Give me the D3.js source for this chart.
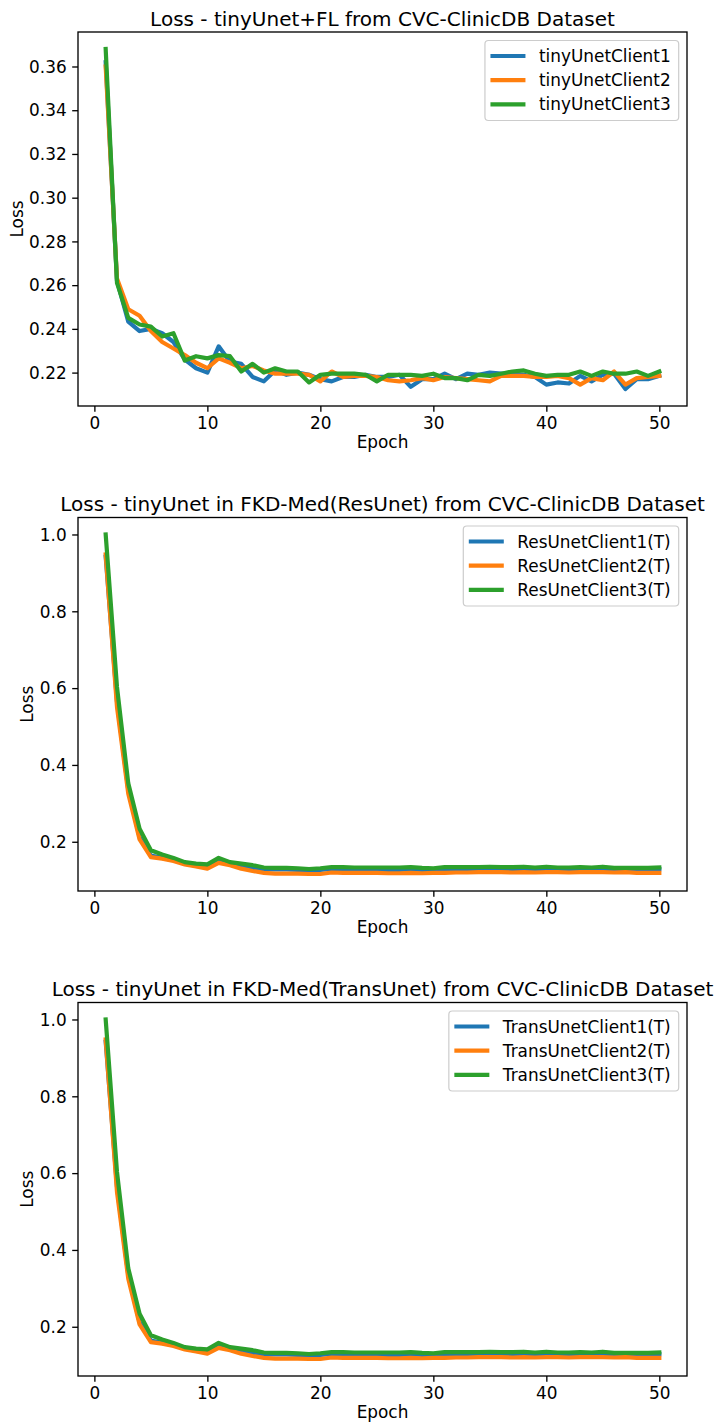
<!DOCTYPE html>
<html><head><meta charset="utf-8">
<script src="https://cdn.jsdelivr.net/npm/d3@7/dist/d3.min.js"></script>
<style>
body{margin:0;background:#fff}
svg{display:block}
text{font-family:"DejaVu Sans",sans-serif;fill:#000}
</style>
</head><body>
<svg id="chart" width="724" height="1425"></svg>
<script>
// ---------------- DATA ----------------
const epochs = d3.range(1, 51);
const xTicks = [0, 10, 20, 30, 40, 50];

const titles = [
  "Loss - tinyUnet+FL from CVC-ClinicDB Dataset",
  "Loss - tinyUnet in FKD-Med(ResUnet) from CVC-ClinicDB Dataset",
  "Loss - tinyUnet in FKD-Med(TransUnet) from CVC-ClinicDB Dataset"
];
const legendFL = ["tinyUnetClient1", "tinyUnetClient2", "tinyUnetClient3"];
const legendRes = ["ResUnetClient1(T)", "ResUnetClient2(T)", "ResUnetClient3(T)"];
const legendTrans = ["TransUnetClient1(T)", "TransUnetClient2(T)", "TransUnetClient3(T)"];
const yTicksFL = [0.22, 0.24, 0.26, 0.28, 0.30, 0.32, 0.34, 0.36];
const yTicksKD = [0.2, 0.4, 0.6, 0.8, 1.0];

const flClient1 = [0.362,0.262,0.2433,0.239,0.240,0.238,0.234,0.226,0.222,0.220,
  0.232,0.225,0.224,0.218,0.216,0.221,0.219,0.220,0.219,0.217,
  0.216,0.218,0.218,0.219,0.218,0.218,0.219,0.2135,0.217,0.217,
  0.2195,0.217,0.2195,0.219,0.220,0.2195,0.2195,0.219,0.218,0.2145,
  0.2155,0.215,0.2185,0.216,0.219,0.2195,0.2125,0.217,0.217,0.2185];
const flClient2 = [0.360,0.263,0.249,0.246,0.239,0.234,0.231,0.228,0.2245,0.222,
  0.2265,0.2245,0.222,0.223,0.221,0.2195,0.2195,0.2195,0.219,0.216,
  0.2205,0.218,0.2185,0.2185,0.218,0.2165,0.216,0.2165,0.2175,0.2165,
  0.218,0.2175,0.217,0.2165,0.216,0.2185,0.2185,0.2185,0.218,0.218,
  0.2185,0.2175,0.2145,0.2175,0.2165,0.2205,0.2145,0.2175,0.218,0.2185];
const flClient3 = [0.368,0.261,0.245,0.242,0.241,0.2365,0.238,0.2255,0.2275,0.2265,
  0.228,0.2275,0.2205,0.224,0.220,0.222,0.2205,0.2205,0.2155,0.219,
  0.2195,0.2195,0.2195,0.219,0.216,0.219,0.219,0.219,0.2185,0.2195,
  0.2175,0.2175,0.2165,0.219,0.2185,0.2195,0.2205,0.221,0.2195,0.2185,
  0.219,0.219,0.2205,0.2185,0.2205,0.2195,0.2195,0.2205,0.2185,0.2205];

const resClient1 = [0.942,0.565,0.335,0.212,0.164,0.158,0.152,0.143,0.138,0.134,
  0.150,0.142,0.136,0.132,0.128,0.128,0.128,0.127,0.126,0.127,
  0.129,0.129,0.128,0.128,0.127,0.127,0.127,0.128,0.127,0.127,
  0.128,0.128,0.128,0.129,0.129,0.129,0.129,0.130,0.129,0.129,
  0.129,0.129,0.129,0.129,0.130,0.129,0.129,0.129,0.129,0.129];
const resClient2 = [0.948,0.551,0.325,0.206,0.160,0.156,0.150,0.141,0.136,0.130,
  0.145,0.139,0.130,0.124,0.119,0.117,0.117,0.117,0.116,0.116,
  0.120,0.119,0.119,0.119,0.119,0.118,0.118,0.119,0.118,0.119,
  0.119,0.120,0.120,0.121,0.121,0.121,0.120,0.121,0.120,0.121,
  0.121,0.120,0.121,0.121,0.121,0.120,0.121,0.119,0.119,0.119];
const resClient3 = [1.000,0.603,0.352,0.234,0.178,0.167,0.158,0.147,0.143,0.141,
  0.158,0.147,0.143,0.139,0.133,0.132,0.132,0.131,0.129,0.131,
  0.134,0.134,0.133,0.133,0.133,0.133,0.133,0.134,0.132,0.131,
  0.134,0.134,0.134,0.134,0.135,0.134,0.134,0.135,0.133,0.135,
  0.133,0.133,0.134,0.133,0.135,0.132,0.132,0.132,0.132,0.133];

const transClient1 = [0.942,0.565,0.335,0.212,0.164,0.158,0.152,0.143,0.138,0.134,
  0.150,0.142,0.136,0.132,0.128,0.128,0.128,0.127,0.126,0.127,
  0.129,0.129,0.128,0.128,0.127,0.127,0.127,0.128,0.127,0.127,
  0.128,0.128,0.128,0.129,0.129,0.129,0.129,0.130,0.129,0.129,
  0.129,0.129,0.129,0.129,0.130,0.129,0.129,0.129,0.129,0.129];
const transClient2 = [0.948,0.551,0.325,0.206,0.160,0.156,0.150,0.141,0.136,0.130,
  0.145,0.139,0.130,0.124,0.119,0.117,0.117,0.117,0.116,0.116,
  0.120,0.119,0.119,0.119,0.119,0.118,0.118,0.119,0.118,0.119,
  0.119,0.120,0.120,0.121,0.121,0.121,0.120,0.121,0.120,0.121,
  0.121,0.120,0.121,0.121,0.121,0.120,0.121,0.119,0.119,0.119];
const transClient3 = [1.000,0.603,0.352,0.234,0.178,0.167,0.158,0.147,0.143,0.141,
  0.158,0.147,0.143,0.139,0.133,0.132,0.132,0.131,0.129,0.131,
  0.134,0.134,0.133,0.133,0.133,0.133,0.133,0.134,0.132,0.131,
  0.134,0.134,0.134,0.134,0.135,0.134,0.134,0.135,0.133,0.135,
  0.133,0.133,0.134,0.133,0.135,0.132,0.132,0.132,0.132,0.133];

const colors = ["#1f77b4", "#ff7f0e", "#2ca02c"];

// ---------------- DRAW ----------------
const svg = d3.select("#chart");
const FS = 16.9, TFS = 20;
const left = 78, right = 687;
const panels = [
  {top: 32, bottom: 406, title: titles[0], names: legendFL, series: [flClient1, flClient2, flClient3], ticks: yTicksFL, fmt: d3.format(".2f")},
  {top: 517.5, bottom: 891, title: titles[1], names: legendRes, series: [resClient1, resClient2, resClient3], ticks: yTicksKD, fmt: d3.format(".1f")},
  {top: 1002.5, bottom: 1376, title: titles[2], names: legendTrans, series: [transClient1, transClient2, transClient3], ticks: yTicksKD, fmt: d3.format(".1f")}
];

panels.forEach(p => {
  const g = svg.append("g");
  const allVals = p.series.flat();
  const mn = d3.min(allVals), mx = d3.max(allVals);
  const padY = (mx - mn) * 0.05;
  const padX = (50 - 1) * 0.05;
  const x = d3.scaleLinear().domain([1 - padX, 50 + padX]).range([left, right]);
  const y = d3.scaleLinear().domain([mn - padY, mx + padY]).range([p.bottom, p.top]);

  // lines
  const line = d3.line().x((d, i) => x(epochs[i])).y(d => y(d));
  p.series.forEach((s, k) => {
    g.append("path").datum(s)
      .attr("fill", "none").attr("stroke", colors[k])
      .attr("stroke-width", 4.2).attr("stroke-linejoin", "round").attr("stroke-linecap", "square")
      .attr("d", line);
  });

  // axes
  const xAxis = d3.axisBottom(x).tickValues(xTicks).tickSize(5.8).tickPadding(5.5).tickFormat(d3.format("d"));
  const yAxis = d3.axisLeft(y).tickValues(p.ticks).tickSize(5.8).tickPadding(5.5).tickFormat(p.fmt);
  const gx = g.append("g").attr("transform", `translate(0,${p.bottom})`).call(xAxis);
  const gy = g.append("g").attr("transform", `translate(${left},0)`).call(yAxis);
  [gx, gy].forEach(a => {
    a.select(".domain").remove();
    a.selectAll(".tick line").attr("stroke", "#000").attr("stroke-width", 1.33);
    a.selectAll(".tick text").attr("font-size", FS).attr("font-family", "DejaVu Sans").attr("fill", "#000");
  });
  gx.selectAll(".tick text").attr("dy", null).attr("y", 22.5);
  gy.selectAll(".tick text").attr("dy", "0.34em");

  // frame
  g.append("rect").attr("x", left).attr("y", p.top)
    .attr("width", right - left).attr("height", p.bottom - p.top)
    .attr("fill", "none").attr("stroke", "#000").attr("stroke-width", 1.33);

  // labels
  let minLeft = Infinity;
  gy.selectAll(".tick text").each(function() {
    const b = this.getBBox();
    minLeft = Math.min(minLeft, left + b.x);
  });
  g.append("text").attr("x", (left + right) / 2).attr("y", p.bottom + 41.5)
    .attr("text-anchor", "middle").attr("font-size", FS).text("Epoch");
  const lx = minLeft - 6.5;
  g.append("text").attr("transform", `translate(${lx},${(p.top + p.bottom) / 2}) rotate(-90)`)
    .attr("text-anchor", "middle").attr("font-size", FS).text("Loss");
  g.append("text").attr("x", (left + right) / 2).attr("y", p.top - 6.5)
    .attr("text-anchor", "middle").attr("font-size", TFS).text(p.title);

  // legend
  const lg = g.append("g");
  const texts = p.names.map((n, i) => lg.append("text").attr("font-size", FS).text(n));
  const tw = d3.max(texts, t => t.node().getComputedTextLength());
  const boxW = tw + 54 + 8;
  const bx = right - 8.3 - boxW, by = p.top + 8.5;
  lg.insert("rect", ":first-child").attr("x", bx).attr("y", by).attr("width", boxW).attr("height", 80)
    .attr("rx", 3.5).attr("fill", "#fff").attr("fill-opacity", 0.8)
    .attr("stroke", "#cccccc").attr("stroke-width", 1.2);
  texts.forEach((t, i) => {
    const cy = by + 15.5 + 24.2 * i;
    t.attr("x", bx + 54).attr("y", cy).attr("dy", "0.36em");
    lg.append("line").attr("x1", bx + 5.5).attr("x2", bx + 40.5).attr("y1", cy).attr("y2", cy)
      .attr("stroke", colors[i]).attr("stroke-width", 4.2);
  });
});
</script>
</body></html>
